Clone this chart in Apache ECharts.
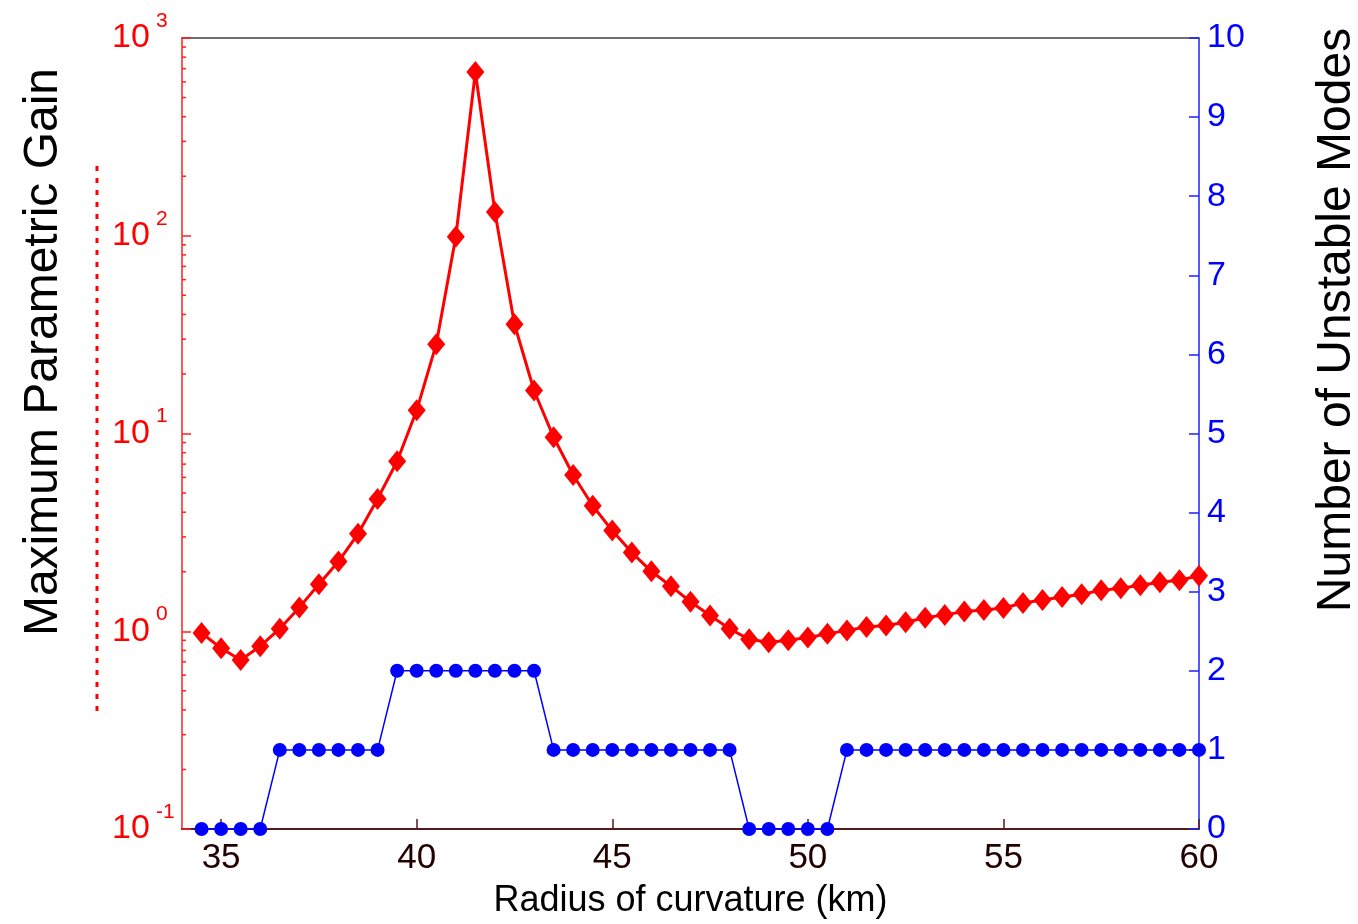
<!DOCTYPE html>
<html>
<head>
<meta charset="utf-8">
<script src="https://cdn.jsdelivr.net/npm/echarts@6/dist/echarts.min.js"></script>
<style>
html,body{margin:0;padding:0;background:#fff;}
#chart{width:1358px;height:924px;}
</style>
</head>
<body>
<div id="chart"></div>
<script>
// Radius of curvature (km)
const radius = [34.5,35,35.5,36,36.5,37,37.5,38,38.5,39,39.5,40,40.5,41,41.5,42,42.5,43,43.5,44,44.5,45,45.5,46,46.5,47,47.5,48,48.5,49,49.5,50,50.5,51,51.5,52,52.5,53,53.5,54,54.5,55,55.5,56,56.5,57,57.5,58,58.5,59,59.5,60];
// Maximum parametric gain (log scale, left axis)
const gain = [0.98,0.82,0.715,0.84,1.03,1.32,1.73,2.25,3.11,4.67,7.24,13.1,28.3,98.9,673,132,35.7,16.5,9.57,6.17,4.31,3.23,2.50,2.01,1.69,1.41,1.20,1.03,0.91,0.88,0.90,0.93,0.97,1.01,1.05,1.07,1.11,1.17,1.21,1.26,1.28,1.31,1.39,1.44,1.49,1.54,1.61,1.65,1.71,1.77,1.81,1.91];
// Number of unstable modes (right axis)
const modes = [0,0,0,0,1,1,1,1,1,1,2,2,2,2,2,2,2,2,1,1,1,1,1,1,1,1,1,1,0,0,0,0,0,1,1,1,1,1,1,1,1,1,1,1,1,1,1,1,1,1,1,1];
// tick labels
const xTicks = [35,40,45,50,55,60];
const leftTicks = [0.1,1,10,100,1000];
const leftMinorTicks = [0.2,0.3,0.4,0.5,0.6,0.7,0.8,0.9,2,3,4,5,6,7,8,9,20,30,40,50,60,70,80,90,200,300,400,500,600,700,800,900];
const rightTicks = [0,1,2,3,4,5,6,7,8,9,10];

const FONT = "'Liberation Sans', Arial, sans-serif";
const chart = echarts.init(document.getElementById('chart'), null, {renderer:'canvas'});

const option = {
  animation: false,
  backgroundColor: '#ffffff',
  grid: {left: 182, right: 159, top: 38, bottom: 90, containLabel: false},
  xAxis: [{
    type: 'value', min: 34, max: 60,
    position: 'bottom',
    name: 'Radius of curvature (km)',
    nameLocation: 'middle', nameGap: 54,
    nameTextStyle: {fontFamily: FONT, fontSize: 36, color: '#000'},
    axisLine: {show: true, lineStyle: {color: '#5a1a1a', width: 2}},
    axisTick: {show: true, inside: true, length: 10, customValues: xTicks, lineStyle: {color: '#5a1a1a', width: 1.5}},
    axisLabel: {show: true, customValues: xTicks, margin: 12, fontFamily: FONT, fontSize: 35, color: '#220000'},
    splitLine: {show: false}
  }, {
    type: 'value', min: 34, max: 60, position: 'top',
    axisLine: {show: true, onZero: false, lineStyle: {color: '#6e6e6e', width: 2}},
    axisTick: {show: false}, axisLabel: {show: false}, splitLine: {show: false}
  }],
  yAxis: [{
    type: 'log', logBase: 10, min: 0.1, max: 1000, position: 'left',
    axisLine: {show: true, lineStyle: {color: '#ff2020', width: 1.5}},
    axisTick: {show: true, inside: true, length: 9, customValues: leftTicks, lineStyle: {color: '#ff2020', width: 1.5}},
    axisLabel: {
      show: true, customValues: leftTicks, align: 'left', margin: 70,
      formatter: function () { return '10'; },
      fontFamily: FONT, fontSize: 34, color: '#ff0000'
    },
    splitLine: {show: false}
  }, {
    type: 'value', min: 0, max: 10, position: 'right',
    axisLine: {show: true, lineStyle: {color: '#2020ff', width: 1.5}},
    axisTick: {show: true, inside: true, length: 10, customValues: rightTicks, lineStyle: {color: '#2020ff', width: 1.5}},
    axisLabel: {show: true, customValues: rightTicks, margin: 8, fontFamily: FONT, fontSize: 34, color: '#0000ff'},
    splitLine: {show: false}
  }, {
    // exponent (superscript) labels of the left log axis
    type: 'log', logBase: 10, min: 0.1, max: 1000, position: 'left',
    axisLine: {show: false}, axisTick: {show: false}, splitLine: {show: false},
    axisLabel: {
      show: true, customValues: leftTicks, align: 'left', verticalAlign: 'bottom', margin: 26,
      formatter: function (v) { return String(Math.round(Math.log10(v))); },
      fontFamily: FONT, fontSize: 21, color: '#ff0000', lineHeight: 34
    }
  }],
  graphic: [
    {type: 'text', x: 44, y: 352, rotation: Math.PI/2,
     style: {text: 'Maximum Parametric Gain', fontFamily: FONT, fontSize: 48, fill: '#000', align: 'center', verticalAlign: 'middle'}},
    {type: 'text', x: 1337, y: 320, rotation: Math.PI/2,
     style: {text: 'Number of Unstable Modes', fontFamily: FONT, fontSize: 48, fill: '#000', align: 'center', verticalAlign: 'middle'}},
    {type: 'line', shape: {x1: 97, y1: 166, x2: 97, y2: 712},
     style: {stroke: '#ff0000', lineWidth: 3, lineDash: [5, 7]}}
  ],
  series: [
    {
      type: 'custom', xAxisIndex: 0, yAxisIndex: 0, silent: true, clip: false, z: 1,
      data: leftMinorTicks.map(v => [34, v]),
      renderItem: function (params, api) {
        const p = api.coord([api.value(0), api.value(1)]);
        return {type: 'line', shape: {x1: p[0], y1: p[1], x2: p[0] + 4, y2: p[1]},
                style: {stroke: '#ff2020', lineWidth: 1.5}};
      }
    },
    {
      type: 'line', xAxisIndex: 0, yAxisIndex: 1, clip: false, z: 3,
      data: radius.map((x, i) => [x, modes[i]]),
      symbol: 'circle', symbolSize: 14,
      lineStyle: {color: '#0000ff', width: 1.5},
      itemStyle: {color: '#0000ff'}
    },
    {
      type: 'line', xAxisIndex: 0, yAxisIndex: 0, clip: false, z: 4,
      data: radius.map((x, i) => [x, gain[i]]),
      symbol: 'diamond', symbolSize: [18, 22],
      lineStyle: {color: '#ff0000', width: 3},
      itemStyle: {color: '#ff0000'}
    }
  ]
};
chart.setOption(option);
</script>
</body>
</html>
